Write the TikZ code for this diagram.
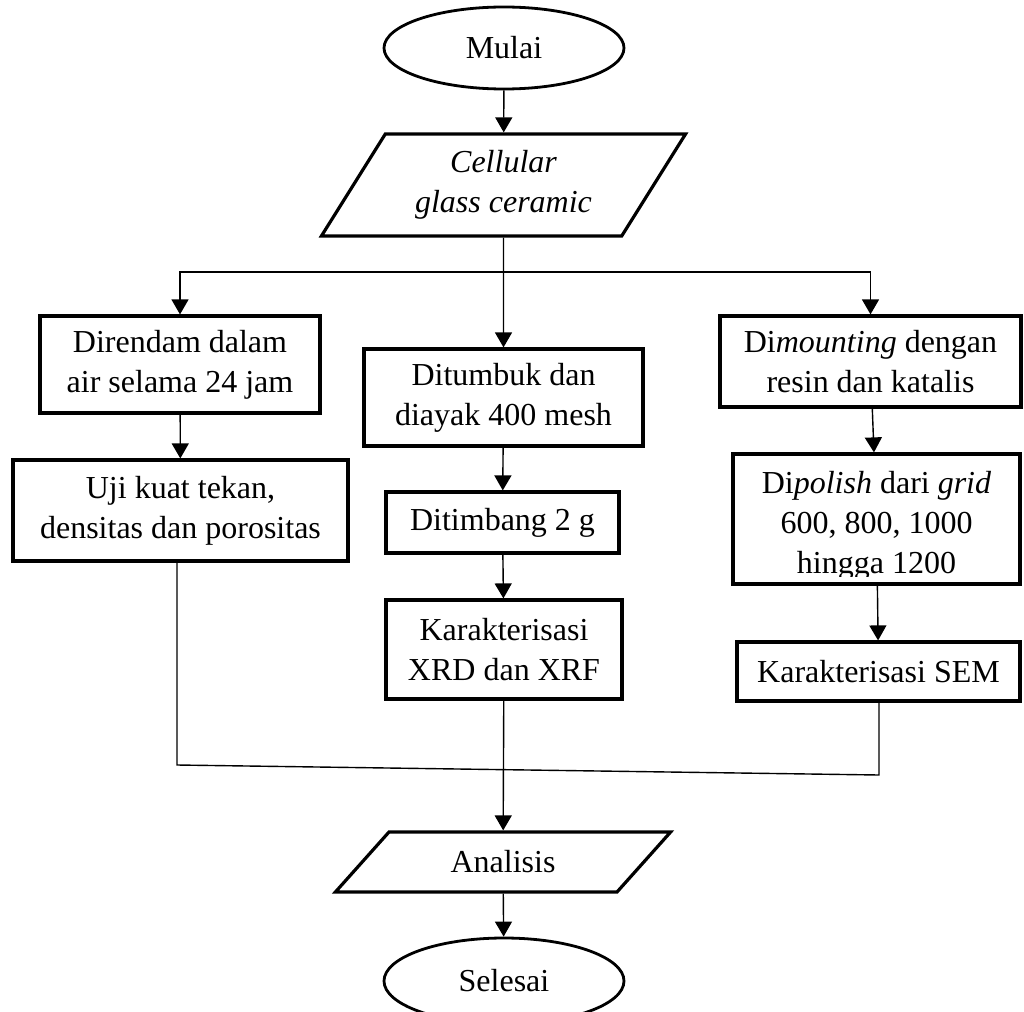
\documentclass[tikz,border=0pt]{standalone}
\usepackage{fontspec}
\setmainfont{Liberation Serif}
\usetikzlibrary{shapes.geometric,arrows.meta}

\tikzset{
  every node/.style={font=\fontsize{32}{40}\selectfont, align=center, inner sep=0pt},
  terminal/.style={ellipse, draw, line width=2.8pt, minimum width=240pt, minimum height=82pt},
  procbox/.style={rectangle, draw, line width=3.2pt},
  iobox/.style={trapezium, draw, line width=3.2pt, trapezium stretches=true},
  flow/.style={line width=1.4pt, -{Triangle[length=15pt,width=17pt]}},
  joinline/.style={line width=1.4pt},
}

\begin{document}
\begin{tikzpicture}[x=1pt,y=-1pt]
\useasboundingbox (0,0) rectangle (1024,1011);

% start and input
\node[terminal] (mulai) at (504,48) {Mulai};
\node[iobox, trapezium left angle=55.3, trapezium right angle=124.7,
      minimum width=365pt, minimum height=102pt] (cgc) at (503.5,185)
      {\itshape Cellular\\\itshape glass ceramic};

% left branch
\node[procbox, minimum width=280pt, minimum height=97pt] (direndam) at (180,364.5)
      {Direndam dalam\\air selama 24 jam};
\node[procbox, minimum width=335pt, minimum height=101pt] (uji) at (180.5,510.5)
      {Uji kuat tekan,\\densitas dan porositas};

% middle branch
\node[procbox, minimum width=279pt, minimum height=97pt] (ditumbuk) at (503.5,397.5)
      {Ditumbuk dan\\diayak 400 mesh};
\node[procbox, minimum width=233pt, minimum height=61pt] (ditimbang) at (502.5,522.5)
      {Ditimbang 2 g};
\node[procbox, minimum width=236pt, minimum height=99pt] (xrd) at (504,649.5)
      {Karakterisasi\\XRD dan XRF};

% right branch
\node[procbox, minimum width=301pt, minimum height=91pt] (dimounting) at (870.5,361.5)
      {Di\textit{mounting} dengan\\resin dan katalis};
\node[procbox, minimum width=287pt, minimum height=130pt] (dipolish) at (876.5,519) {};
\begin{scope}
  \clip (dipolish.north west) rectangle (dipolish.east |- 0,576);
  \node (dipolishtext) at (876.5,526)
      {Di\textit{polish} dari \textit{grid}\\600, 800, 1000\\hingga 1200};
\end{scope}
\node[procbox, minimum width=283pt, minimum height=59pt] (sem) at (878.5,671.5)
      {Karakterisasi SEM};

% output and end
\node[iobox, trapezium left angle=42.4, trapezium right angle=137.6,
      minimum width=336pt, minimum height=60pt] (analisis) at (503,862) {Analisis};
\node[terminal, minimum height=86pt] (selesai) at (504,981) {Selesai};

% branching
\coordinate (split) at (503,272);
\draw[flow] (mulai) -- (cgc);
\draw[flow] (cgc.south) -- (ditumbuk.north);
\draw[flow] (split) -| (direndam.north);
\draw[flow] (split) -| (dimounting.north);
\draw[flow] (direndam) -- (uji);
\draw[flow] (ditumbuk) -- (ditimbang);
\draw[flow] (ditimbang) -- (xrd);
\draw[flow] (dimounting) -- (dipolish);
\draw[flow] (dipolish) -- (sem);

% merging into the analysis
\coordinate (joinl) at (177,765);
\coordinate (joinr) at (879,775);
\draw[joinline] (uji.south -| joinl) -- (joinl) -- (joinr) -- (sem.south -| joinr);
\draw[flow] (xrd) -- (analisis);
\draw[flow] (analisis) -- (selesai);
\end{tikzpicture}
\end{document}
